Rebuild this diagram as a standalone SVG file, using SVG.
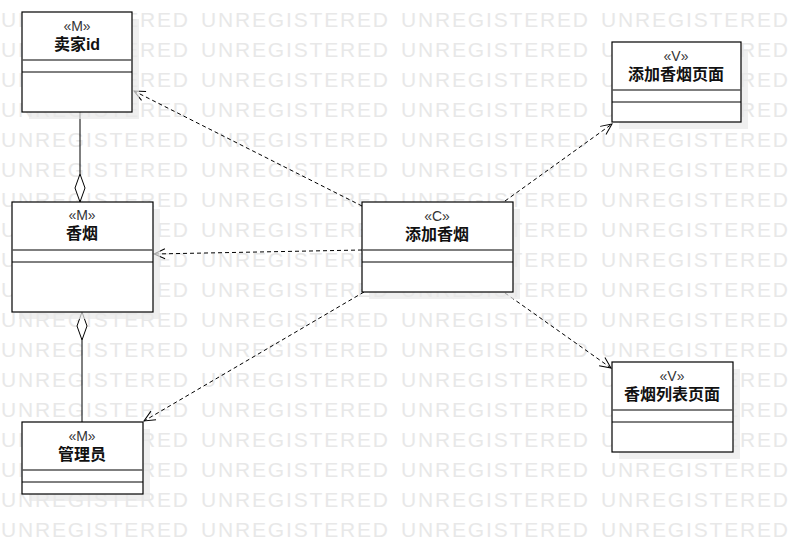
<svg xmlns="http://www.w3.org/2000/svg" width="791" height="543" viewBox="0 0 791 543">
<style>
.wm{font-family:"Liberation Sans",Arial,sans-serif;font-size:21px;fill:#e8e8e8}
.box{fill:#fff;stroke:#000;stroke-width:1.2}
.shadow{fill:#e8e8e8;opacity:0.7}
.d1{stroke:#555;stroke-width:1.6}
.d2{stroke:#000;stroke-width:1}
.st{font-family:"Liberation Sans","Noto Sans CJK SC",sans-serif;font-size:14px;fill:#333;text-anchor:middle}
.nm{font-family:"Liberation Sans","Noto Sans CJK SC",sans-serif;font-size:16px;font-weight:bold;fill:#111;text-anchor:middle}
.dash{stroke:#000;stroke-width:1;stroke-dasharray:4,3;fill:none;marker-end:url(#open)}
.solid{stroke:#000;stroke-width:1;fill:none}
.dia{fill:#fff;stroke:#000;stroke-width:1}
</style>
<defs>
<marker id="open" markerUnits="userSpaceOnUse" markerWidth="14" markerHeight="12" refX="12" refY="6" orient="auto">
<path d="M1,1 L12,6 L1,11" fill="none" stroke="#000" stroke-width="1"/>
</marker>
<g id="wmrow">
<text class="wm" x="1" y="0" textLength="187" lengthAdjust="spacing">UNREGISTERED</text>
<text class="wm" x="201" y="0" textLength="187" lengthAdjust="spacing">UNREGISTERED</text>
<text class="wm" x="401" y="0" textLength="187" lengthAdjust="spacing">UNREGISTERED</text>
<text class="wm" x="601" y="0" textLength="187" lengthAdjust="spacing">UNREGISTERED</text>
</g>
</defs>
<rect width="791" height="543" fill="#fff"/>
<g id="watermark">
<use href="#wmrow" y="27"/><use href="#wmrow" y="57"/><use href="#wmrow" y="87"/><use href="#wmrow" y="117"/>
<use href="#wmrow" y="147"/><use href="#wmrow" y="177"/><use href="#wmrow" y="207"/><use href="#wmrow" y="237"/>
<use href="#wmrow" y="267"/><use href="#wmrow" y="297"/><use href="#wmrow" y="327"/><use href="#wmrow" y="357"/>
<use href="#wmrow" y="387"/><use href="#wmrow" y="417"/><use href="#wmrow" y="447"/><use href="#wmrow" y="477"/>
<use href="#wmrow" y="507"/><use href="#wmrow" y="537"/>
</g>
<g id="connectors">
<line class="solid" x1="80" y1="112" x2="80" y2="174"/>
<polygon class="dia" points="80,202 85,188 80,174 75,188"/>
<line class="solid" x1="82" y1="340" x2="82" y2="422"/>
<polygon class="dia" points="82,312 87,326 82,340 77,326"/>
<line class="dash" x1="362" y1="206" x2="134" y2="91"/>
<line class="dash" x1="362" y1="250" x2="154" y2="254"/>
<line class="dash" x1="364" y1="292" x2="144" y2="421"/>
<line class="dash" x1="505" y1="201" x2="612" y2="124"/>
<line class="dash" x1="505" y1="293" x2="611" y2="368"/>
</g>
<g id="seller">
<rect class="shadow" x="29" y="19" width="110" height="100"/>
<rect class="box" x="22" y="12" width="110" height="100"/>
<line class="d1" x1="22" y1="60" x2="132" y2="60"/>
<line class="d2" x1="22" y1="72" x2="132" y2="72"/>
<text class="st" x="77" y="31">«M»</text>
<text class="nm" x="77" y="50">卖家id</text>
</g>
<g id="cigarette">
<rect class="shadow" x="19" y="209" width="141" height="110"/>
<rect class="box" x="12" y="202" width="141" height="110"/>
<line class="d1" x1="12" y1="250" x2="153" y2="250"/>
<line class="d2" x1="12" y1="262" x2="153" y2="262"/>
<text class="st" x="82" y="220">«M»</text>
<text class="nm" x="82" y="239">香烟</text>
</g>
<g id="admin">
<rect class="shadow" x="29" y="429" width="121" height="72"/>
<rect class="box" x="22" y="422" width="121" height="72"/>
<line class="d1" x1="22" y1="470" x2="143" y2="470"/>
<line class="d2" x1="22" y1="482" x2="143" y2="482"/>
<text class="st" x="82" y="441">«M»</text>
<text class="nm" x="82" y="460">管理员</text>
</g>
<g id="addCtrl">
<rect class="shadow" x="369" y="209" width="151" height="90"/>
<rect class="box" x="362" y="202" width="151" height="90"/>
<line class="d1" x1="362" y1="250" x2="513" y2="250"/>
<line class="d2" x1="362" y1="262" x2="513" y2="262"/>
<text class="st" x="437" y="221">«C»</text>
<text class="nm" x="437" y="240">添加香烟</text>
</g>
<g id="addPage">
<rect class="shadow" x="619" y="49" width="129" height="80"/>
<rect class="box" x="612" y="42" width="129" height="80"/>
<line class="d1" x1="612" y1="90" x2="741" y2="90"/>
<line class="d2" x1="612" y1="102" x2="741" y2="102"/>
<text class="st" x="676" y="61">«V»</text>
<text class="nm" x="676" y="80">添加香烟页面</text>
</g>
<g id="listPage">
<rect class="shadow" x="619" y="369" width="121" height="90"/>
<rect class="box" x="612" y="362" width="121" height="90"/>
<line class="d1" x1="612" y1="410" x2="733" y2="410"/>
<line class="d2" x1="612" y1="422" x2="733" y2="422"/>
<text class="st" x="672" y="381">«V»</text>
<text class="nm" x="672" y="400">香烟列表页面</text>
</g>
</svg>
